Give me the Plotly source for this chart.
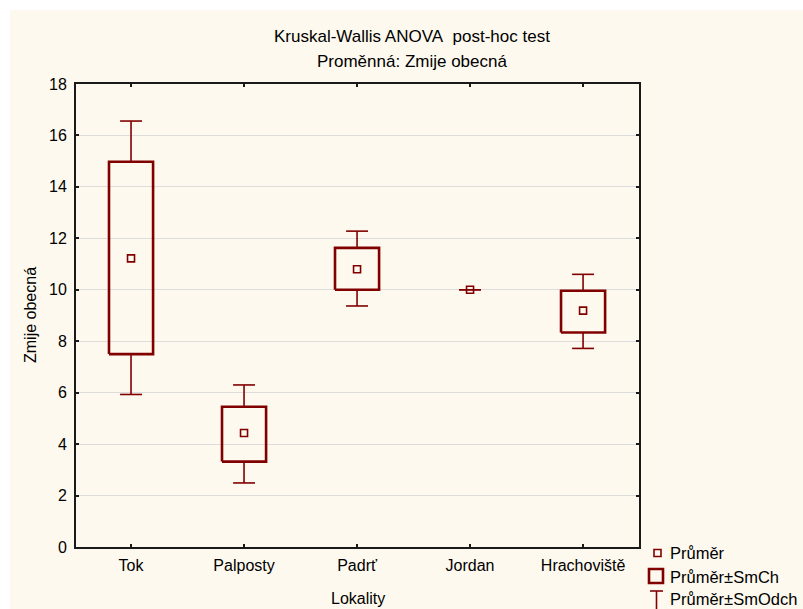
import plotly.graph_objects as go

categories = ["Tok", "Palposty", "Padrť", "Jordan", "Hrachoviště"]
mean_vals = [11.22, 4.43, 10.80, 10.00, 9.19]
box_low = [7.50, 3.32, 10.00, 10.00, 8.34]
box_high = [14.98, 5.45, 11.63, 10.00, 9.96]
whisk_low = [5.93, 2.49, 9.37, 10.00, 7.72]
whisk_high = [16.56, 6.30, 12.28, 10.00, 10.60]

RED = "#800000"
FONT = "Liberation Sans, Arial, sans-serif"
W, H = 803, 609
L, R, T, B = 76, 639, 84, 547

fig = go.Figure()
box_hw = 0.195
cap_hw = 0.097
for i, c in enumerate(categories):
    # whiskers
    fig.add_trace(go.Scatter(
        x=[i, i, None, i, i, None, i - cap_hw, i + cap_hw, None, i - cap_hw, i + cap_hw],
        y=[box_high[i], whisk_high[i], None, box_low[i], whisk_low[i], None,
           whisk_high[i], whisk_high[i], None, whisk_low[i], whisk_low[i]],
        mode="lines", line=dict(color=RED, width=1.6), showlegend=False, hoverinfo="skip"))
    # box (degenerate boxes with zero spread are not drawn)
    if box_high[i] > box_low[i]:
        fig.add_trace(go.Scatter(
            x=[i - box_hw, i + box_hw, i + box_hw, i - box_hw, i - box_hw],
            y=[box_low[i], box_low[i], box_high[i], box_high[i], box_low[i]],
            mode="lines", line=dict(color=RED, width=2.6), showlegend=False, hoverinfo="skip"))

fig.add_trace(go.Scatter(
    x=list(range(len(categories))), y=mean_vals, mode="markers",
    marker=dict(symbol="square-open", size=7, color=RED, line=dict(width=1.6, color=RED)),
    showlegend=False, hoverinfo="skip"))

def px(xp):
    return (xp - L) / (R - L)

def py(yp):
    return (B - yp) / (B - T)

shapes = [
    dict(type="rect", xref="paper", yref="paper", x0=px(10), x1=px(W + 5), y0=py(10), y1=py(H + 5),
         fillcolor="#FEF9EE", line=dict(width=0), layer="below"),
    # legend symbols
    dict(type="rect", xref="paper", yref="paper", x0=px(654), x1=px(661), y0=py(556.5), y1=py(549.5),
         line=dict(color=RED, width=1.6), fillcolor="rgba(0,0,0,0)"),
    dict(type="rect", xref="paper", yref="paper", x0=px(649), x1=px(663), y0=py(583), y1=py(569),
         line=dict(color=RED, width=2.6), fillcolor="rgba(0,0,0,0)"),
    dict(type="line", xref="paper", yref="paper", x0=px(656.5), x1=px(656.5), y0=py(591), y1=py(609),
         line=dict(color=RED, width=1.6)),
    dict(type="line", xref="paper", yref="paper", x0=px(650), x1=px(663), y0=py(591), y1=py(591),
         line=dict(color=RED, width=1.6)),
]

legend_labels = ["Průměr", "Průměr±SmCh", "Průměr±SmOdch"]
legend_y = [553, 577, 599]
annotations = []
for lab, yy in zip(legend_labels, legend_y):
    annotations.append(dict(text=lab, xref="paper", yref="paper", x=px(668), y=py(yy),
                            xanchor="left", yanchor="middle", showarrow=False,
                            font=dict(family=FONT, size=16.5, color="#000")))
annotations.append(dict(text="Kruskal-Wallis ANOVA&nbsp; post-hoc test", xref="paper", yref="paper",
                        x=px(412), y=py(37), xanchor="center", yanchor="middle", showarrow=False,
                        font=dict(family=FONT, size=17, color="#000")))
annotations.append(dict(text="Proměnná: Zmije obecná", xref="paper", yref="paper",
                        x=px(412), y=py(62), xanchor="center", yanchor="middle", showarrow=False,
                        font=dict(family=FONT, size=17, color="#000")))
annotations.append(dict(text="Lokality", xref="paper", yref="paper",
                        x=px(358), y=py(598), xanchor="center", yanchor="middle", showarrow=False,
                        font=dict(family=FONT, size=16, color="#000")))
annotations.append(dict(text="Zmije obecná", xref="paper", yref="paper", textangle=-90,
                        x=px(30), y=py(315), xanchor="center", yanchor="middle", showarrow=False,
                        font=dict(family=FONT, size=16, color="#000")))

fig.update_layout(
    width=W, height=H, margin=dict(l=L, r=W - R, t=T, b=H - B, autoexpand=False),
    paper_bgcolor="white", plot_bgcolor="white",
    shapes=shapes, annotations=annotations,
    font=dict(family=FONT, size=16, color="#000"),
    showlegend=False,
)
fig.update_xaxes(
    range=[-0.487, 4.495], tickmode="array", tickvals=list(range(len(categories))), ticktext=categories,
    showgrid=False, zeroline=False, showline=True, linecolor="#1a1a1a", linewidth=2, mirror="ticks",
    ticks="inside", ticklen=3, tickcolor="#1a1a1a", tickwidth=1.5, ticklabelstandoff=3,
    automargin=False,
)
fig.update_yaxes(
    range=[0, 18], tickmode="array", tickvals=list(range(0, 19, 2)),
    showgrid=True, gridcolor="#dcdcdc", gridwidth=1.2, zeroline=False,
    showline=True, linecolor="#1a1a1a", linewidth=2, mirror="ticks",
    ticks="inside", ticklen=3, tickcolor="#1a1a1a", tickwidth=1.5, ticklabelstandoff=4,
    automargin=False,
)

fig.write_html("out.html")
